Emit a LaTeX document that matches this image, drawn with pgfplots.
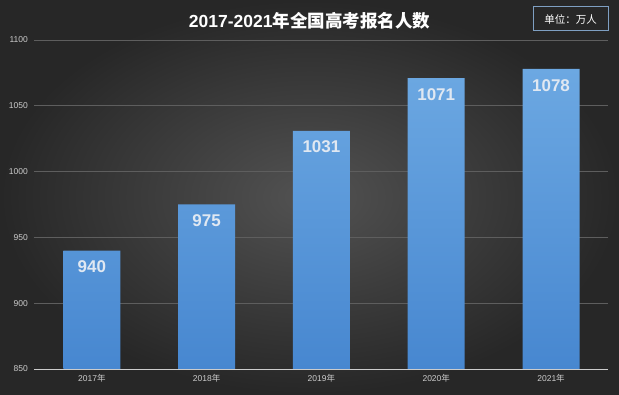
\documentclass[border=0pt]{standalone}
\usepackage{fontspec}
\setmainfont{Liberation Sans}
\newfontfamily\cjk{Noto Sans CJK SC}
\usepackage{pgfplots}
\pgfplotsset{compat=1.18}
\definecolor{bgin}{HTML}{525252}
\definecolor{bgout}{HTML}{272727}
\definecolor{bartop}{HTML}{6CA8E2}
\definecolor{barbot}{HTML}{4787D0}
\definecolor{gridc}{HTML}{5E5E5E}
\definecolor{boxc}{HTML}{7E9FC2}
\definecolor{lblc}{HTML}{E0E8F2}
\begin{document}
\begin{tikzpicture}[x=1pt,y=1pt]
\useasboundingbox (0,0) rectangle (619,394);
\shade[inner color=bgin, outer color=bgout] (0,0) rectangle (619,394);
\begin{axis}[
  at={(30,19)}, anchor=south west,
  scale only axis, width=574pt, height=329pt,
  xmin=-0.5, xmax=4.5, ymin=850, ymax=1100,
  ytick={850,900,...,1100},
  xtick={0,...,4},
  xticklabels={{2017{\cjk 年}},{2018{\cjk 年}},{2019{\cjk 年}},{2020{\cjk 年}},{2021{\cjk 年}}},
  /pgf/number format/assume math mode=true,
  /pgf/number format/1000 sep={},
  axis x line*=bottom, axis y line*=left,
  y axis line style={draw=none},
  x axis line style={draw=white!80!black, line width=0.8pt},
  major tick length=0pt,
  ymajorgrids, major grid style={gridc, line width=0.6pt},
  tick label style={text=white!80!black, font=\fontsize{8.5}{9}\selectfont},
  yticklabel style={xshift=-3pt},
  xticklabel style={yshift=-2pt},
  ybar, bar width=57pt,
  nodes near coords,
  every node near coord/.append style={anchor=north, yshift=-10pt, inner sep=0pt,
     text=lblc, font=\bfseries\fontsize{17}{17}\selectfont},
]
\addplot[draw=none, top color=bartop, bottom color=barbot] coordinates {(0,940) (1,975) (2,1031) (3,1071) (4,1078)};
\end{axis}
\node[text=white, font=\bfseries\fontsize{17.5}{18}\selectfont] at (309.5,373.5) {2017-2021{\cjk 年全国高考报名人数}};
\node[draw=boxc, line width=1pt, minimum width=75pt, minimum height=24pt, inner sep=0pt, text=white, font=\cjk\fontsize{10.5}{11}\selectfont] at (570.5,375) {单位：万人};
\end{tikzpicture}
\end{document}
